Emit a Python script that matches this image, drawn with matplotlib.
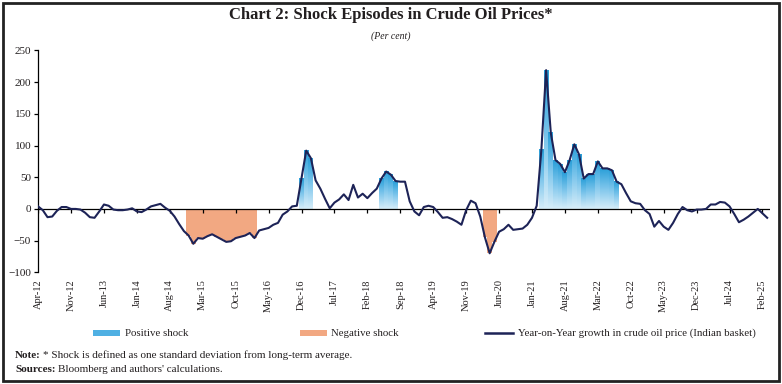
import numpy as np
import pandas as pd
import matplotlib
matplotlib.use("Agg")
import matplotlib.pyplot as plt
from matplotlib.colors import LinearSegmentedColormap
from matplotlib.patches import Rectangle
from matplotlib.lines import Line2D

# ---------------- data ----------------
start_month = "2012-04-01"
yoy = [4, -2, -13, -12, -3, 3, 3, 0, 0, -1, -6, -13, -14, -4, 7, 5, -1, -2, -2, -1,
       1, -4, -5, -1, 4, 6, 8, 2, -3, -12, -24, -35, -42, -55, -46, -47, -43, -40, -44, -48,
       -52, -51, -46, -44, -42, -38, -46, -34, -32, -30, -25, -22, -9, -4, 4, 5, 48, 92, 80, 45,
       32, 16, 1, 10, 15, 23, 14, 38, 18, 24, 17, 25, 32, 48, 59, 54, 44, 43, 43, 12,
       -4, -10, 3, 5, 3, -5, -14, -13, -16, -20, -25, -2, 13, 9, -12, -45, -70, -52, -36, -32,
       -25, -33, -32, -31, -25, -14, 5, 94, 219, 120, 77, 71, 58, 77, 102, 86, 48, 55, 55, 75,
       64, 64, 61, 43, 39, 25, 12, 9, 8, -2, -8, -28, -19, -28, -33, -22, -8, 3, -2, -4,
       -1, -1, 0, 7, 7, 11, 10, 4, -8, -21, -17, -12, -6, 0, -7, -14]
pos_episodes = [("Dec-16", "Feb-17"), ("May-18", "Aug-18"), ("Mar-21", "Jul-22")]
neg_episodes = [("Dec-14", "Feb-16"), ("Mar-20", "May-20")]
tick_labels = ["Apr-12", "Nov-12", "Jun-13", "Jan-14", "Aug-14", "Mar-15", "Oct-15",
               "May-16", "Dec-16", "Jul-17", "Feb-18", "Sep-18", "Apr-19", "Nov-19",
               "Jun-20", "Jan-21", "Aug-21", "Mar-22", "Oct-22", "May-23", "Dec-23",
               "Jul-24", "Feb-25"]
y_ticks = [-100, -50, 0, 50, 100, 150, 200, 250]

# ---------------- style ----------------
SERIF = ["Liberation Serif", "DejaVu Serif"]
plt.rcParams["font.family"] = SERIF
TXT = "#231f20"
LINE_C = "#1d2357"
NEG_C = "#f2a882"
POS_TOP = "#2a9fd9"
POS_BOT = "#d6edf9"
cmap = LinearSegmentedColormap.from_list("pos", [POS_BOT, "#7ec6ec", POS_TOP])

W, H = 782, 384
def fx(px): return px / W
def fy(py): return 1 - py / H

months = pd.date_range(start_month, periods=len(yoy), freq="MS").strftime("%b-%y").tolist()
x = np.arange(len(yoy))
vals = np.array(yoy, dtype=float)

fig = plt.figure(figsize=(W / 100, H / 100), dpi=100)
ax = fig.add_axes([fx(38.1), fy(272.3), fx(770) - fx(38.1), fy(50.5) - fy(272.3)])

# negative shock bars
for a, b in neg_episodes:
    i0, i1 = months.index(a), months.index(b)
    ax.bar(x[i0:i1 + 1], vals[i0:i1 + 1], width=1.02, color=NEG_C, linewidth=0, zorder=1)

# positive shock bars with vertical gradient
grad = np.linspace(0, 1, 64).reshape(-1, 1)
for a, b in pos_episodes:
    i0, i1 = months.index(a), months.index(b)
    for k in range(i0, i1 + 1):
        ax.imshow(grad, extent=[k - 0.53, k + 0.53, 0, vals[k]], origin="lower",
                  cmap=cmap, aspect="auto", zorder=1, interpolation="bilinear")

tick_pos = [months.index(t) for t in tick_labels]
ax.axhline(0, color="black", lw=0.9, zorder=2)
ax.vlines(tick_pos, -6.5, 0, color="black", lw=0.9, zorder=2)
ax.plot(x, vals, color=LINE_C, lw=1.5, zorder=3, solid_joinstyle="round")

ax.set_xlim(0, 155.6)
ax.set_ylim(-100, 250)
for s in ["top", "right", "bottom"]:
    ax.spines[s].set_visible(False)
ax.spines["left"].set_color("black")
ax.spines["left"].set_linewidth(0.9)
ax.set_yticks(y_ticks)
ax.tick_params(axis="y", direction="out", length=3, width=0.9, labelsize=8,
               pad=2, labelcolor=TXT)
ax.set_xticks(tick_pos)
ax.set_xticklabels(tick_labels, rotation=90, fontsize=7.5, color=TXT)
ax.tick_params(axis="x", length=0, pad=5)

# titles
fig.text(0.5, fy(15), "Chart 2: Shock Episodes in Crude Oil Prices*", ha="center",
         va="center", fontsize=12, fontweight="bold", color=TXT)
fig.text(0.5, fy(36), "(Per cent)", ha="center", va="center", fontsize=7,
         style="italic", color=TXT)

# legend (manual)
ly = 333
fig.add_artist(Rectangle((fx(93), fy(ly + 3)), fx(120) - fx(93), 6 / H,
                         transform=fig.transFigure, color="#4fb0e3", lw=0))
fig.text(fx(125), fy(ly), "Positive shock", ha="left", va="center", fontsize=7.8, color=TXT)
fig.add_artist(Rectangle((fx(300), fy(ly + 3)), fx(327) - fx(300), 6 / H,
                         transform=fig.transFigure, color=NEG_C, lw=0))
fig.text(fx(331), fy(ly), "Negative shock", ha="left", va="center", fontsize=7.8, color=TXT)
fig.add_artist(Line2D([fx(485), fx(513)], [fy(ly), fy(ly)], transform=fig.transFigure,
                      color=LINE_C, lw=1.8))
fig.text(fx(518), fy(ly), "Year-on-Year growth in crude oil price (Indian basket)",
         ha="left", va="center", fontsize=7.8, color=TXT)

# notes
fig.canvas.draw()
r = fig.canvas.get_renderer()
def bold_lead(py, lead, rest):
    t = fig.text(fx(15), fy(py), lead, ha="left", va="center", fontsize=8,
                 fontweight="bold", color=TXT)
    bb = t.get_window_extent(renderer=r)
    fig.text(bb.x1 / W + 2.5 / W, fy(py), rest, ha="left", va="center", fontsize=8, color=TXT)
bold_lead(355, "Note:", "* Shock is defined as one standard deviation from long-term average.")
bold_lead(369, "Sources:", "Bloomberg and authors' calculations.")

# frame
fig.add_artist(Rectangle((fx(3), fy(381)), fx(779) - fx(3), (381 - 3) / H,
                         transform=fig.transFigure, fill=False, lw=2, ec="#222222"))

fig.savefig("out.png", dpi=100)
